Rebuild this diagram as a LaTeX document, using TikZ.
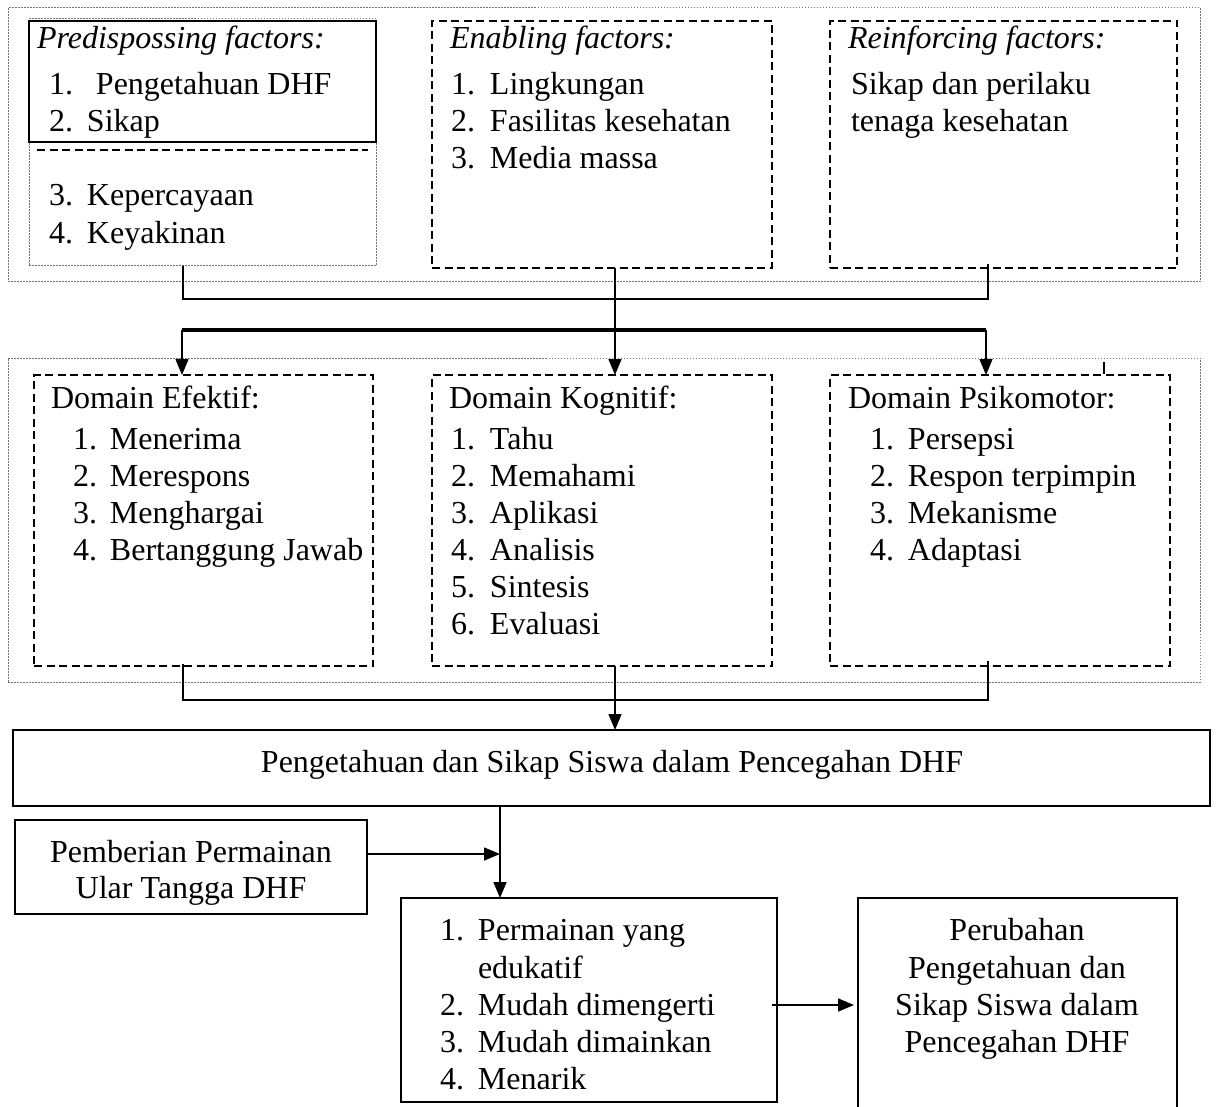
\documentclass[tikz,border=0pt]{standalone}
\usepackage{fontspec}
\setmainfont{Liberation Serif}
\usetikzlibrary{arrows.meta}
\newcommand\itm[3][38pt]{\makebox[#1][l]{#2}#3}
\begin{document}
\begin{tikzpicture}[x=1pt,y=-1pt,
  txt/.style={inner sep=0pt, outer sep=0pt, font=\fontsize{32}{37}\selectfont, anchor=base west},
  hdr/.style={txt, font=\fontsize{32}{37}\selectfont\itshape},
  ctxt/.style={txt, anchor=base},
  boxbase/.style={inner sep=0pt, outer sep=0pt, anchor=north west},
  solidbox/.style={boxbase, draw, line width=2pt},
  dashbox/.style={boxbase, draw, line width=2pt, dash pattern=on 8pt off 4.5pt},
  dotbox/.style={boxbase, draw=black!55, line width=1pt, dash pattern=on 1.5pt off 1.5pt},
  conn/.style={line width=1.5pt},
  thick conn/.style={line width=3.5pt},
  arr/.style={conn, -{Triangle[length=16pt,width=13pt]}}
]
\useasboundingbox (0,0) rectangle (1218,1107);
\clip (0,0) rectangle (1218,1107);

% ---------- frames and boxes ----------
\node[dotbox, minimum width=1192pt, minimum height=274pt] (frame1) at (8,8) {};
\node[dotbox, minimum width=347pt, minimum height=247pt] (predframe) at (29,19) {};
\node[solidbox, minimum width=347pt, minimum height=121pt] (predsolid) at (29,21) {};
\node[dashbox, minimum width=340pt, minimum height=247pt] (enab) at (432,21) {};
\node[dashbox, minimum width=347pt, minimum height=247pt] (reinf) at (830,21) {};

\node[dotbox, minimum width=1192pt, minimum height=324pt] (frame2) at (8,358) {};
\node[dashbox, minimum width=339pt, minimum height=291pt] (efek) at (34,375) {};
\node[dashbox, minimum width=340pt, minimum height=291pt] (kogn) at (432,375) {};
\node[dashbox, minimum width=340pt, minimum height=291pt] (psiko) at (830,375) {};

\node[solidbox, minimum width=1197pt, minimum height=76pt] (big) at (13,730) {};
\node[solidbox, minimum width=352pt, minimum height=94pt] (pemb) at (15,820) {};
\node[solidbox, minimum width=376pt, minimum height=204pt] (list) at (401,898) {};
\node[solidbox, minimum width=319pt, minimum height=220pt] (perub) at (858,898) {};

% divider inside predisposing
\draw[dashbox] (37,150) -- (368,150);
% small tick above Psikomotor
\draw[conn] (1104,362) -- (1104,374);

% ---------- texts ----------
\node[hdr] (ph) at (37,49) {Predispossing factors:};
\node[txt] (p1) at (49,95) {\itm[47pt]{1.}{Pengetahuan DHF}};
\node[txt] (p2) at (49,132) {\itm{2.}{Sikap}};
\node[txt] (p3) at (49,206) {\itm{3.}{Kepercayaan}};
\node[txt] (p4) at (49,244) {\itm{4.}{Keyakinan}};

\node[hdr] (eh) at (450,49) {Enabling factors:};
\node[txt] (e1) at (451,95) {\itm[39pt]{1.}{Lingkungan}};
\node[txt] (e2) at (451,132) {\itm[39pt]{2.}{Fasilitas kesehatan}};
\node[txt] (e3) at (451,169) {\itm[39pt]{3.}{Media massa}};

\node[hdr] (rh) at (848,49) {Reinforcing factors:};
\node[txt] (r1) at (851,95) {Sikap dan perilaku};
\node[txt] (r2) at (851,132) {tenaga kesehatan};

\node[txt] (fh) at (51,408) {Domain Efektif:};
\node[txt] (f1) at (73,449) {\itm[37pt]{1.}{Menerima}};
\node[txt] (f2) at (73,486) {\itm[37pt]{2.}{Merespons}};
\node[txt] (f3) at (73,523) {\itm[37pt]{3.}{Menghargai}};
\node[txt] (f4) at (73,560) {\itm[37pt]{4.}{Bertanggung Jawab}};

\node[txt] (kh) at (449,408) {Domain Kognitif:};
\node[txt] (k1t) at (451,449) {\itm[39pt]{1.}{Tahu}};
\node[txt] (k2t) at (451,486) {\itm[39pt]{2.}{Memahami}};
\node[txt] (k3t) at (451,523) {\itm[39pt]{3.}{Aplikasi}};
\node[txt] (k4t) at (451,560) {\itm[39pt]{4.}{Analisis}};
\node[txt] (k5t) at (451,597) {\itm[39pt]{5.}{Sintesis}};
\node[txt] (k6t) at (451,634) {\itm[39pt]{6.}{Evaluasi}};

\node[txt] (sh) at (848,408) {Domain Psikomotor:};
\node[txt] (s1) at (870,449) {\itm{1.}{Persepsi}};
\node[txt] (s2) at (870,486) {\itm{2.}{Respon terpimpin}};
\node[txt] (s3) at (870,523) {\itm{3.}{Mekanisme}};
\node[txt] (s4) at (870,560) {\itm{4.}{Adaptasi}};

\node[ctxt] (bigt) at (612,772) {Pengetahuan dan Sikap Siswa dalam Pencegahan DHF};

\node[ctxt] (pb1) at (191,862) {Pemberian Permainan};
\node[ctxt] (pb2) at (191,898) {Ular Tangga DHF};

\node[txt] (l1) at (440,940) {\itm{1.}{Permainan yang}};
\node[txt] (l1b) at (478,978) {edukatif};
\node[txt] (l2) at (440,1015) {\itm{2.}{Mudah dimengerti}};
\node[txt] (l3) at (440,1052) {\itm{3.}{Mudah dimainkan}};
\node[txt] (l4) at (440,1089) {\itm{4.}{Menarik}};

\node[ctxt] (u1) at (1017,940) {Perubahan};
\node[ctxt] (u2) at (1017,978) {Pengetahuan dan};
\node[ctxt] (u3) at (1017,1015) {Sikap Siswa dalam};
\node[ctxt] (u4) at (1017,1052) {Pencegahan DHF};

% ---------- connectors ----------
\coordinate (j1) at (183,299);
\coordinate (j2) at (988,299);
\coordinate (t1) at (182,330);
\coordinate (t2) at (986,330);
\coordinate (m1) at (615,330);
\draw[conn] (predframe.south -| j1) -- (j1) -- (j2) -- ([yshift=4pt]reinf.south -| j2);
\draw[thick conn] (t1) -- (t2);
\draw[arr] (enab.south -| m1) -- (kogn.north -| m1);
\draw[arr] (t1) -- (efek.north -| t1);
\draw[arr] (t2) -- (psiko.north -| t2);

\coordinate (k1) at (183,700);
\coordinate (k2) at (988,700);
\coordinate (m2) at (615,700);
\draw[conn] ([yshift=2pt]efek.south -| k1) -- (k1) -- (k2) -- ([yshift=5pt]psiko.south -| k2);
\draw[arr] (kogn.south -| m2) -- (big.north -| m2);

\coordinate (m3) at (500,854);
\coordinate (a4) at (858,1005);
\draw[arr] (big.south -| m3) -- (list.north -| m3);
\draw[arr] (pemb.east |- m3) -- (m3);
\draw[arr, shorten >=4pt] ([xshift=-5pt]list.east |- a4) -- (perub.west |- a4);
\end{tikzpicture}
\end{document}
